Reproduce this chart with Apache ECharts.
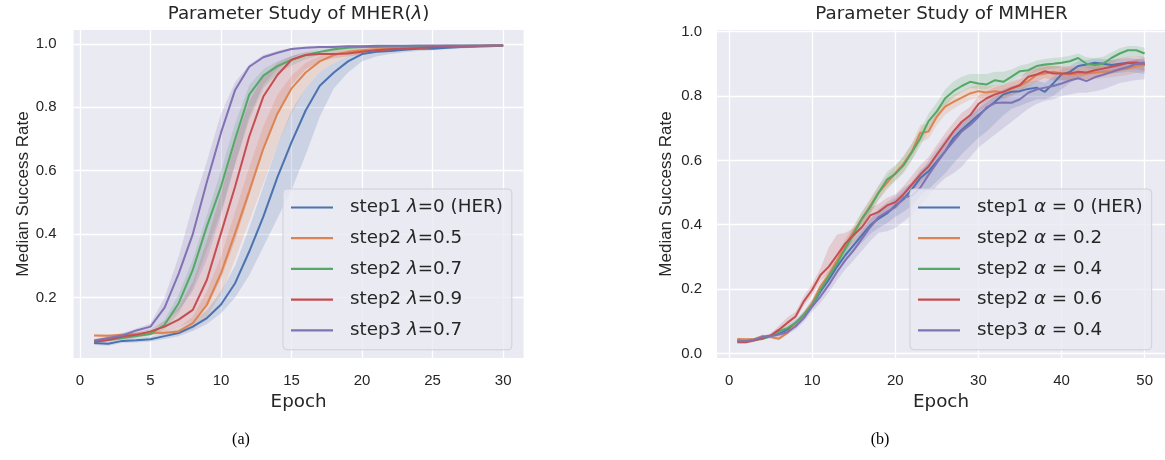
<!DOCTYPE html>
<html><head><meta charset="utf-8">
<script src="https://cdn.jsdelivr.net/npm/echarts@6/dist/echarts.min.js"></script>
<style>html,body{margin:0;padding:0;background:#fff}#c{width:1165px;height:460px}</style>
</head><body><div id="c"></div><script>
// ---------- data: left panel (MHER, lambda) ----------
const epochsL = [1,2,3,4,5,6,7,8,9,10,11,12,13,14,15,16,17,18,19,20,21,22,23,24,25,26,27,28,29,30];
const namesL = ['step1 λ=0 (HER)','step2 λ=0.5','step2 λ=0.7','step2 λ=0.9','step3 λ=0.7'];
const blueL   = [0.056,0.054,0.063,0.065,0.068,0.078,0.088,0.108,0.135,0.178,0.245,0.345,0.455,0.580,0.690,0.790,0.868,0.910,0.945,0.968,0.975,0.978,0.982,0.985,0.985,0.988,0.990,0.992,0.993,0.994];
const blueLoL = [0.050,0.048,0.056,0.058,0.061,0.069,0.078,0.094,0.116,0.150,0.200,0.270,0.360,0.450,0.540,0.650,0.770,0.860,0.910,0.945,0.960,0.968,0.974,0.978,0.980,0.983,0.986,0.988,0.990,0.991];
const blueHiL = [0.062,0.060,0.070,0.072,0.076,0.088,0.100,0.125,0.160,0.220,0.300,0.420,0.550,0.680,0.790,0.860,0.910,0.940,0.960,0.975,0.980,0.984,0.987,0.989,0.990,0.992,0.993,0.994,0.995,0.996];
const orangeL   = [0.080,0.079,0.082,0.085,0.087,0.089,0.093,0.119,0.177,0.277,0.403,0.535,0.670,0.780,0.860,0.910,0.945,0.965,0.975,0.980,0.983,0.985,0.987,0.988,0.990,0.990,0.992,0.993,0.994,0.995];
const orangeLoL = [0.076,0.075,0.077,0.080,0.082,0.083,0.086,0.100,0.140,0.210,0.320,0.440,0.560,0.680,0.780,0.860,0.910,0.940,0.960,0.970,0.975,0.978,0.981,0.983,0.985,0.986,0.988,0.990,0.991,0.992];
const orangeHiL = [0.084,0.083,0.086,0.090,0.092,0.095,0.105,0.140,0.220,0.330,0.470,0.610,0.740,0.840,0.900,0.940,0.962,0.975,0.982,0.985,0.987,0.989,0.990,0.991,0.992,0.993,0.994,0.995,0.996,0.997];
const greenL   = [0.061,0.066,0.072,0.078,0.085,0.114,0.182,0.287,0.425,0.550,0.700,0.840,0.900,0.930,0.950,0.965,0.975,0.983,0.988,0.990,0.990,0.991,0.992,0.993,0.993,0.994,0.994,0.995,0.995,0.995];
const greenLoL = [0.058,0.062,0.067,0.072,0.078,0.100,0.150,0.230,0.350,0.470,0.620,0.760,0.860,0.905,0.932,0.952,0.966,0.976,0.983,0.986,0.987,0.988,0.989,0.990,0.991,0.992,0.992,0.993,0.993,0.993];
const greenHiL = [0.064,0.070,0.077,0.084,0.092,0.130,0.210,0.320,0.460,0.600,0.750,0.870,0.920,0.945,0.962,0.974,0.982,0.987,0.991,0.993,0.993,0.994,0.994,0.995,0.995,0.996,0.996,0.997,0.997,0.997];
const redL   = [0.061,0.066,0.077,0.082,0.093,0.108,0.130,0.161,0.256,0.403,0.550,0.708,0.834,0.902,0.950,0.965,0.968,0.968,0.970,0.975,0.980,0.983,0.985,0.987,0.990,0.990,0.992,0.993,0.995,0.995];
const redLoL = [0.056,0.060,0.068,0.074,0.082,0.092,0.105,0.125,0.170,0.260,0.380,0.520,0.660,0.780,0.870,0.920,0.945,0.955,0.960,0.966,0.972,0.976,0.979,0.982,0.985,0.986,0.988,0.990,0.991,0.992];
const redHiL = [0.066,0.072,0.082,0.090,0.100,0.125,0.170,0.250,0.380,0.530,0.690,0.820,0.900,0.940,0.962,0.974,0.978,0.981,0.984,0.987,0.989,0.990,0.991,0.992,0.993,0.994,0.995,0.996,0.997,0.997];
const purpleL   = [0.064,0.072,0.080,0.096,0.108,0.168,0.275,0.400,0.565,0.720,0.855,0.928,0.958,0.972,0.984,0.988,0.990,0.990,0.993,0.993,0.994,0.994,0.994,0.995,0.995,0.995,0.995,0.995,0.995,0.995];
const purpleLoL = [0.058,0.066,0.074,0.085,0.098,0.120,0.160,0.220,0.320,0.460,0.620,0.770,0.870,0.920,0.955,0.972,0.982,0.986,0.989,0.990,0.991,0.992,0.992,0.993,0.993,0.993,0.993,0.993,0.993,0.993];
const purpleHiL = [0.070,0.078,0.088,0.102,0.118,0.200,0.330,0.490,0.630,0.780,0.880,0.935,0.965,0.978,0.988,0.991,0.993,0.994,0.995,0.995,0.996,0.996,0.996,0.997,0.997,0.997,0.997,0.997,0.997,0.997];
const xTicksL = [0,5,10,15,20,25,30];
const yTicksL = [0.2,0.4,0.6,0.8,1.0];

// ---------- data: right panel (MMHER, alpha) ----------
const epochsR = [1,2,3,4,5,6,7,8,9,10,11,12,13,14,15,16,17,18,19,20,21,22,23,24,25,26,27,28,29,30,31,32,33,34,35,36,37,38,39,40,41,42,43,44,45,46,47,48,49,50];
const namesR = ['step1 α = 0 (HER)','step2 α = 0.2','step2 α = 0.4','step2 α = 0.6','step3 α = 0.4'];
const blueR   = [0.040,0.041,0.043,0.050,0.054,0.061,0.074,0.095,0.120,0.151,0.193,0.229,0.270,0.306,0.337,0.368,0.399,0.419,0.435,0.460,0.480,0.510,0.545,0.566,0.597,0.628,0.669,0.695,0.718,0.741,0.762,0.782,0.805,0.813,0.815,0.822,0.826,0.813,0.839,0.867,0.875,0.893,0.898,0.903,0.900,0.896,0.900,0.903,0.900,0.896];
const blueLoR = [0.036,0.037,0.039,0.045,0.049,0.055,0.067,0.086,0.108,0.138,0.178,0.212,0.250,0.285,0.315,0.345,0.372,0.390,0.405,0.425,0.440,0.460,0.490,0.510,0.535,0.560,0.590,0.620,0.645,0.670,0.690,0.715,0.740,0.760,0.770,0.780,0.790,0.790,0.800,0.820,0.840,0.855,0.865,0.870,0.872,0.870,0.872,0.875,0.872,0.868];
const blueHiR = [0.044,0.045,0.047,0.055,0.059,0.067,0.081,0.104,0.132,0.164,0.206,0.244,0.288,0.325,0.358,0.390,0.420,0.440,0.458,0.482,0.505,0.535,0.570,0.590,0.620,0.650,0.690,0.715,0.738,0.760,0.780,0.800,0.822,0.830,0.835,0.842,0.848,0.840,0.860,0.885,0.893,0.908,0.912,0.916,0.915,0.912,0.915,0.918,0.915,0.912];
const orangeR   = [0.045,0.044,0.044,0.054,0.051,0.046,0.064,0.090,0.120,0.157,0.208,0.244,0.290,0.337,0.378,0.419,0.460,0.500,0.530,0.560,0.590,0.628,0.685,0.690,0.736,0.767,0.782,0.795,0.808,0.815,0.811,0.815,0.811,0.824,0.832,0.846,0.865,0.870,0.875,0.870,0.867,0.870,0.870,0.872,0.875,0.877,0.882,0.885,0.893,0.896];
const orangeLoR = [0.041,0.040,0.040,0.049,0.046,0.041,0.058,0.082,0.110,0.145,0.194,0.228,0.272,0.318,0.358,0.398,0.438,0.478,0.508,0.538,0.566,0.603,0.655,0.668,0.710,0.742,0.760,0.775,0.788,0.795,0.792,0.796,0.793,0.805,0.813,0.826,0.845,0.850,0.855,0.850,0.848,0.851,0.851,0.853,0.856,0.858,0.862,0.865,0.872,0.875];
const orangeHiR = [0.049,0.048,0.048,0.059,0.056,0.052,0.070,0.098,0.130,0.169,0.222,0.260,0.308,0.356,0.398,0.440,0.482,0.522,0.552,0.582,0.614,0.653,0.710,0.715,0.762,0.790,0.805,0.815,0.828,0.835,0.830,0.834,0.830,0.843,0.851,0.866,0.885,0.890,0.895,0.890,0.887,0.890,0.890,0.892,0.895,0.897,0.902,0.905,0.913,0.916];
const greenR   = [0.040,0.038,0.043,0.045,0.054,0.069,0.079,0.095,0.120,0.151,0.198,0.239,0.280,0.326,0.373,0.419,0.455,0.500,0.540,0.558,0.585,0.625,0.668,0.722,0.752,0.793,0.815,0.831,0.844,0.839,0.836,0.849,0.844,0.860,0.877,0.880,0.893,0.898,0.900,0.903,0.908,0.918,0.900,0.896,0.900,0.918,0.932,0.942,0.942,0.932];
const greenLoR = [0.036,0.034,0.039,0.041,0.049,0.062,0.072,0.087,0.110,0.140,0.185,0.225,0.265,0.310,0.355,0.400,0.435,0.478,0.515,0.535,0.560,0.600,0.645,0.695,0.728,0.770,0.795,0.812,0.825,0.822,0.820,0.832,0.830,0.845,0.860,0.865,0.876,0.882,0.885,0.888,0.892,0.900,0.886,0.882,0.886,0.900,0.914,0.922,0.924,0.916];
const greenHiR = [0.044,0.042,0.047,0.050,0.060,0.076,0.087,0.104,0.130,0.163,0.212,0.254,0.296,0.343,0.392,0.440,0.478,0.522,0.565,0.585,0.612,0.652,0.695,0.745,0.780,0.820,0.845,0.860,0.868,0.868,0.868,0.875,0.875,0.882,0.895,0.900,0.910,0.915,0.918,0.920,0.925,0.932,0.920,0.918,0.922,0.935,0.948,0.955,0.955,0.950];
const redR   = [0.035,0.035,0.040,0.048,0.056,0.074,0.095,0.115,0.162,0.198,0.244,0.270,0.306,0.342,0.368,0.393,0.429,0.440,0.460,0.470,0.495,0.525,0.556,0.581,0.618,0.654,0.690,0.720,0.740,0.775,0.793,0.805,0.813,0.824,0.834,0.860,0.867,0.877,0.870,0.870,0.870,0.875,0.873,0.880,0.885,0.891,0.896,0.903,0.904,0.900];
const redLoR = [0.031,0.031,0.036,0.043,0.050,0.066,0.085,0.104,0.148,0.182,0.226,0.250,0.284,0.318,0.344,0.370,0.405,0.418,0.436,0.448,0.472,0.500,0.530,0.555,0.590,0.626,0.662,0.692,0.715,0.750,0.770,0.782,0.790,0.800,0.812,0.838,0.845,0.855,0.848,0.848,0.848,0.853,0.851,0.858,0.863,0.870,0.875,0.882,0.883,0.878];
const redHiR = [0.039,0.039,0.044,0.053,0.063,0.086,0.112,0.130,0.178,0.216,0.265,0.330,0.370,0.375,0.390,0.416,0.452,0.465,0.484,0.495,0.520,0.552,0.585,0.610,0.648,0.684,0.718,0.748,0.766,0.800,0.816,0.828,0.835,0.846,0.856,0.882,0.888,0.898,0.892,0.892,0.892,0.897,0.895,0.902,0.906,0.912,0.917,0.923,0.924,0.921];
const purpleR   = [0.038,0.038,0.043,0.051,0.054,0.059,0.066,0.084,0.110,0.146,0.177,0.213,0.254,0.290,0.321,0.357,0.393,0.424,0.440,0.455,0.485,0.490,0.515,0.555,0.592,0.628,0.659,0.690,0.710,0.735,0.765,0.778,0.780,0.779,0.790,0.810,0.820,0.826,0.831,0.839,0.848,0.855,0.846,0.858,0.866,0.874,0.883,0.890,0.900,0.904];
const purpleLoR = [0.034,0.034,0.038,0.045,0.048,0.052,0.058,0.074,0.098,0.130,0.158,0.190,0.228,0.262,0.290,0.320,0.350,0.375,0.380,0.390,0.410,0.430,0.460,0.490,0.520,0.545,0.560,0.580,0.610,0.640,0.660,0.680,0.700,0.720,0.740,0.760,0.775,0.785,0.790,0.800,0.805,0.810,0.810,0.815,0.820,0.830,0.840,0.845,0.850,0.852];
const purpleHiR = [0.042,0.042,0.048,0.056,0.060,0.066,0.074,0.094,0.122,0.160,0.194,0.232,0.275,0.312,0.345,0.380,0.418,0.450,0.470,0.490,0.515,0.530,0.560,0.600,0.635,0.668,0.695,0.720,0.740,0.765,0.790,0.800,0.805,0.808,0.820,0.835,0.845,0.850,0.855,0.862,0.870,0.876,0.872,0.880,0.888,0.895,0.902,0.908,0.915,0.918];
const xTicksR = [0,10,20,30,40,50];
const yTicksR = [0.0,0.2,0.4,0.6,0.8,1.0];

const colors = ['#4C72B0','#DD8452','#55A868','#C44E52','#8172B3'];
const F = 'Liberation Sans';
const FW = 'DejaVu Sans';
const TXT = '#262626';

const panels = [
  {x: epochsL, names: namesL, mid: [blueL, orangeL, greenL, redL, purpleL],
   lo: [blueLoL, orangeLoL, greenLoL, redLoL, purpleLoL], hi: [blueHiL, orangeHiL, greenHiL, redHiL, purpleHiL]},
  {x: epochsR, names: namesR, mid: [blueR, orangeR, greenR, redR, purpleR],
   lo: [blueLoR, orangeLoR, greenLoR, redLoR, purpleLoR], hi: [blueHiR, orangeHiR, greenHiR, redHiR, purpleHiR]}
];

function richName(name) {
  return '{n|' + name.replace(/([λα])/, '}{i|$1}{n|') + '}';
}
const legendRich = {
  n: {fontFamily: FW, fontSize: 18.3, color: TXT, lineHeight: 21},
  i: {fontFamily: FW, fontSize: 18.3, color: TXT, fontStyle: 'italic', lineHeight: 21}
};

function xAxis(gi, min, max, ticks) {
  return {type: 'value', gridIndex: gi, min: min, max: max,
    axisLine: {show: false}, axisTick: {show: false, customValues: ticks},
    axisLabel: {customValues: ticks, color: TXT, fontSize: 15, fontFamily: F, margin: 15},
    splitLine: {show: true, lineStyle: {color: '#ffffff', width: 1.3}},
    name: 'Epoch', nameLocation: 'middle', nameGap: 34,
    nameTextStyle: {fontSize: 18.3, color: TXT, fontFamily: FW}};
}
function yAxis(gi, min, max, ticks, margin) {
  return {type: 'value', gridIndex: gi, min: min, max: max,
    axisLine: {show: false}, axisTick: {show: false, customValues: ticks},
    axisLabel: {customValues: ticks, color: TXT, fontSize: 15, fontFamily: F, margin: margin,
      formatter: v => Number(v).toFixed(1)},
    splitLine: {show: true, lineStyle: {color: '#ffffff', width: 1.3}},
    name: 'Median Success Rate', nameLocation: 'middle', nameGap: 42,
    nameTextStyle: {fontSize: 17, color: TXT, fontFamily: F}};
}

const series = [];
panels.forEach((p, pi) => {
  p.mid.forEach((m, si) => {
    const lo = p.lo[si], hi = p.hi[si], xs = p.x;
    series.push({
      type: 'custom', xAxisIndex: pi, yAxisIndex: pi, silent: true, z: 2,
      data: [[xs[0], m[0]]],
      renderItem: function (params, api) {
        const pts = [];
        for (let i = 0; i < xs.length; i++) pts.push(api.coord([xs[i], hi[i]]));
        for (let i = xs.length - 1; i >= 0; i--) pts.push(api.coord([xs[i], lo[i]]));
        return {type: 'polygon', shape: {points: pts}, style: {fill: colors[si], opacity: 0.2}};
      }
    });
    series.push({
      type: 'line', name: p.names[si], xAxisIndex: pi, yAxisIndex: pi, z: 3,
      data: xs.map((x, i) => [x, m[i]]), symbol: 'none', showSymbol: false,
      lineStyle: {color: colors[si], width: 2}, itemStyle: {color: colors[si]}
    });
  });
});

function legend(left, names) {
  return {orient: 'vertical', left: left, top: 189, data: names,
    icon: 'rect', itemWidth: 42, itemHeight: 2.2, itemGap: 9.7,
    padding: [8, 9, 9, 8],
    backgroundColor: 'rgba(234,234,242,0.8)', borderColor: '#cfcfd6', borderWidth: 1, borderRadius: 4,
    formatter: richName,
    textStyle: {rich: legendRich, lineHeight: 21, padding: [0, 0, 0, 12]},
    selectedMode: false};
}

const chart = echarts.init(document.getElementById('c'), null, {renderer: 'canvas'});
chart.setOption({
  animation: false,
  color: colors,
  grid: [
    {left: 73.6, top: 30, width: 450, height: 328, show: true, backgroundColor: '#EAEAF2', borderWidth: 0},
    {left: 717, top: 30, width: 449, height: 328, show: true, backgroundColor: '#EAEAF2', borderWidth: 0}
  ],
  xAxis: [xAxis(0, -0.45, 31.45, xTicksL), xAxis(1, -1.45, 52.45, xTicksR)],
  yAxis: [yAxis(0, 0.009, 1.044, yTicksL, 17), yAxis(1, -0.014, 1.005, yTicksR, 15)],
  legend: [legend(283, namesL), legend(910, namesR)],
  graphic: [
    {type: 'text', x: 298.6, y: 14, style: {text: '{n|Parameter Study of MHER(}{i|λ}{n|)}', align: 'center', verticalAlign: 'middle',
      rich: {n: {fontFamily: FW, fontSize: 18.3, fill: TXT}, i: {fontFamily: FW, fontSize: 18.3, fill: TXT, fontStyle: 'italic'}}}},
    {type: 'text', x: 941.5, y: 14, style: {text: 'Parameter Study of MMHER', align: 'center', verticalAlign: 'middle',
      fontFamily: FW, fontSize: 18.3, fill: TXT}},
    {type: 'text', x: 241, y: 440, style: {text: '(a)', align: 'center', verticalAlign: 'middle',
      fontFamily: 'Liberation Serif', fontSize: 16, fill: '#000'}},
    {type: 'text', x: 880, y: 440, style: {text: '(b)', align: 'center', verticalAlign: 'middle',
      fontFamily: 'Liberation Serif', fontSize: 16, fill: '#000'}}
  ],
  series: series
});
</script></body></html>
